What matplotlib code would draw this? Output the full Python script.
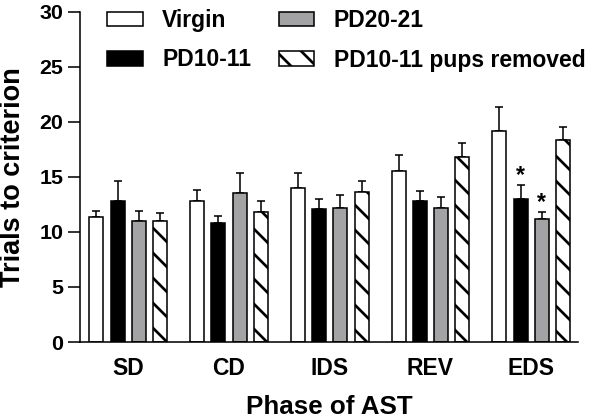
import matplotlib
matplotlib.use("Agg")
from matplotlib import pyplot as plt
import numpy as np

phases = ["SD", "CD", "IDS", "REV", "EDS"]
groups = ["Virgin", "PD10-11", "PD20-21", "PD10-11 pups removed"]

virgin = [11.4, 12.8, 14.0, 15.5, 19.2]
virgin_err = [0.5, 1.0, 1.4, 1.5, 2.2]
pd10 = [12.8, 10.8, 12.1, 12.8, 13.0]
pd10_err = [1.8, 0.7, 0.9, 0.9, 1.3]
pd20 = [11.0, 13.5, 12.2, 12.15, 11.15]
pd20_err = [0.9, 1.9, 1.2, 1.05, 0.65]
removed = [11.0, 11.85, 13.6, 16.85, 18.4]
removed_err = [0.7, 0.95, 1.05, 1.25, 1.15]

# significant vs virgin (EDS)
stars = [(4, 1), (4, 2)]

plt.rcParams['font.family'] = ['Liberation Sans', 'DejaVu Sans']
plt.rcParams['font.weight'] = 'bold'
plt.rcParams['hatch.linewidth'] = 2.6

dpi = 75
fig = plt.figure(figsize=(600 / dpi, 419 / dpi), dpi=dpi)
ax = fig.add_axes([80 / 600, 1 - 342 / 419, 498 / 600, 330 / 419])

x = np.arange(len(phases))
step = 0.211
width = 0.139
series = [virgin, pd10, pd20, removed]
errs = [virgin_err, pd10_err, pd20_err, removed_err]
colors = ["white", "black", "#a3a3a6", "white"]
hatches = [None, None, None, "\\"]

for i in range(4):
    pos = x + (i - 1.5) * step
    ax.bar(pos, series[i], width, color=colors[i], edgecolor="black",
           linewidth=1.5, hatch=hatches[i], label=groups[i], zorder=2)
    ax.errorbar(pos, series[i], yerr=[np.zeros(5), errs[i]], fmt="none",
                ecolor="black", elinewidth=1.5, capsize=3.8, capthick=1.5, zorder=1)

for g, s in stars:
    ax.text(x[g] + (s - 1.5) * step, series[s][g] + errs[s][g] + 0.25, "*",
            ha="center", va="baseline", fontsize=22, fontweight="bold")

ax.set_xlim(-0.48, 4.465)
ax.set_ylim(0, 30)
ax.set_yticks(range(0, 31, 5))
ax.set_xticks(x)
ax.set_xticklabels(phases)
ax.tick_params(axis="x", length=0, labelsize=22, pad=14)
ax.tick_params(axis="y", length=11.5, width=1.5, labelsize=20.5, pad=4.5)
for sp in ["top", "right"]:
    ax.spines[sp].set_visible(False)
for sp in ["left", "bottom"]:
    ax.spines[sp].set_linewidth(1.5)

ax.set_ylabel("Trials to criterion", fontsize=26, fontweight="bold", labelpad=13)
ax.set_xlabel("Phase of AST", fontsize=25, fontweight="bold", labelpad=14.5)

ax.legend(loc="upper left", bbox_to_anchor=(107 / 600, 1 - 9 / 419),
          bbox_transform=fig.transFigure, ncol=2, frameon=False, fontsize=22,
          handlelength=1.57, handleheight=0.61, handletextpad=0.83,
          labelspacing=0.72, columnspacing=1.2, borderpad=0, borderaxespad=0)

fig.savefig("out.png", dpi=dpi)
